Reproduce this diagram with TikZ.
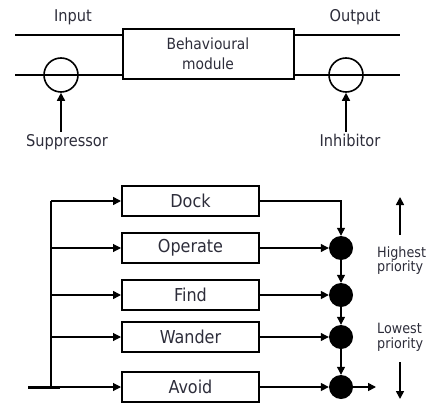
\documentclass[tikz,border=0pt]{standalone}
\usepackage{fontspec}
\setmainfont{DejaVu Sans Condensed}
\usetikzlibrary{arrows.meta}
\definecolor{ink}{RGB}{45,45,58}
\begin{document}
\begin{tikzpicture}[x=1pt,y=-1pt,
  line/.style={line width=1.6pt},
  arr/.style={line width=1.6pt,-{Triangle[length=8pt,width=8pt]}},
  thinarr/.style={line width=1.1pt,-{Triangle[length=8pt,width=8pt]}},
  modbox/.style={draw,line width=2pt,minimum width=137pt,minimum height=30pt,inner sep=0pt,text=ink,font=\fontsize{17.8}{20}\selectfont},
  ring/.style={draw,circle,line width=1.6pt,minimum size=34pt,inner sep=0pt},
  dot/.style={fill=black,circle,minimum size=24pt,inner sep=0pt},
  lbl/.style={text=ink,inner sep=0pt,font=\fontsize{16.2}{18}\selectfont},
  prio/.style={text=ink,inner sep=0pt,anchor=base west,font=\fontsize{14.2}{16}\selectfont}]
\useasboundingbox (0,0) rectangle (427,403);

% --- suppressor / inhibitor module ---
\node[draw,line width=2pt,minimum width=171pt,minimum height=50pt,inner sep=0pt,
      align=center,text=ink,font=\fontsize{15.4}{20}\selectfont] (bm) at (208,54) {Behavioural\\module};
\coordinate (inA) at (15,35);
\coordinate (inB) at (15,75);
\coordinate (outA) at (400,35);
\coordinate (outB) at (400,75);
\draw[line] (inA) -- (inA -| bm.west);
\draw[line] (inB) -- (inB -| bm.west);
\draw[line] (outA -| bm.east) -- (outA);
\draw[line] (outB -| bm.east) -- (outB);
\node[ring] (sup) at (61,75) {};
\node[ring] (inh) at (346,75) {};
\node[lbl] (input) at (73,17) {Input};
\node[lbl] (output) at (355,17) {Output};
\node[lbl,anchor=base] (suplbl) at (67,147) {Suppressor};
\node[lbl,anchor=base] (inhlbl) at (350,147) {Inhibitor};
\coordinate (supfoot) at (61,132);
\coordinate (inhfoot) at (346,132);
\draw[arr] (supfoot) -- (sup.south);
\draw[arr] (inhfoot) -- (inh.south);

% --- subsumption layers ---
\node[modbox] (dock) at (190.5,201) {Dock};
\node[modbox] (operate) at (190.5,248) {Operate};
\node[modbox] (find) at (190.5,295) {Find};
\node[modbox] (wander) at (190.5,337) {Wander};
\node[modbox] (avoid) at (190.5,387) {Avoid};

% shared sensor bus
\coordinate (busTop) at (51,201);
\coordinate (busBot) at (51,387);
\coordinate (stubL) at (28,387);
\coordinate (stubR) at (60,387);
\draw[line] (busTop) -- (busBot);
\draw[line width=3pt] (stubL) -- (stubR);
\draw[arr] (busTop) -- (dock.west);
\draw[thinarr] (busTop |- operate.west) -- (operate.west);
\draw[arr] (busTop |- find.west) -- (find.west);
\draw[thinarr] (busTop |- wander.west) -- (wander.west);
\draw[thinarr] (busBot) -- (avoid.west);

% priority nodes
\node[dot] (cOp) at (341,248) {};
\node[dot] (cFind) at (341,295) {};
\node[dot] (cWan) at (341,337) {};
\node[dot] (cAvo) at (341,387) {};
\coordinate (dockTurn) at (341,201);
\coordinate (outEnd) at (376,387);
\draw[thinarr] (dock.east) -- (dockTurn) -- (cOp.north);
\draw[thinarr] (operate.east) -- (cOp.west);
\draw[arr] (find.east) -- (cFind.west);
\draw[thinarr] (wander.east) -- (cWan.west);
\draw[arr] (avoid.east) -- (cAvo.west);
\draw[thinarr] (cOp.south) -- (cFind.north);
\draw[thinarr] (cFind.south) -- (cWan.north);
\draw[thinarr] (cWan.south) -- (cAvo.north);
\draw[arr] (cAvo.east) -- (outEnd);

% priority scale
\node[prio] (hi1) at (377,257) {Highest};
\node[prio] (hi2) at (377,271) {priority};
\node[prio] (lo1) at (377,333) {Lowest};
\node[prio] (lo2) at (377,348) {priority};
\coordinate (upFoot) at (400,235);
\coordinate (upTip) at (400,197);
\coordinate (dnFoot) at (400,362);
\coordinate (dnTip) at (400,399);
\draw[arr] (upFoot) -- (upTip);
\draw[arr] (dnFoot) -- (dnTip);
\end{tikzpicture}
\end{document}
